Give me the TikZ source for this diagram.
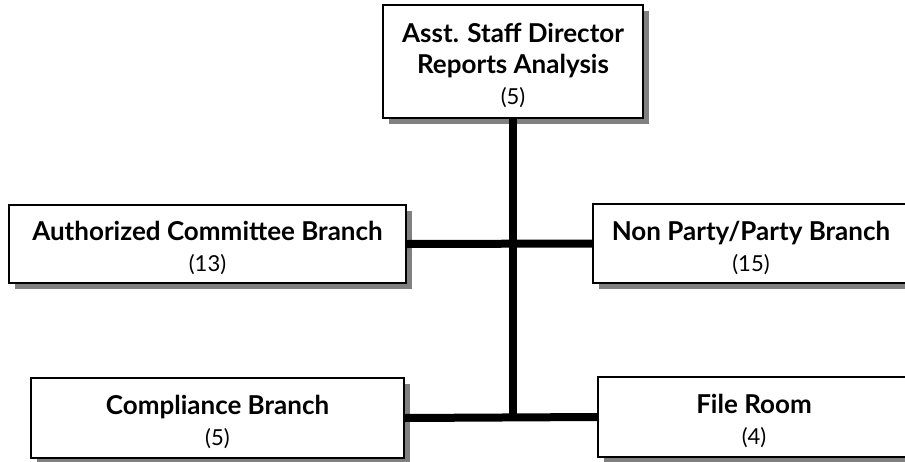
\documentclass[tikz,border=0pt]{standalone}
\usepackage{fontspec}
\setmainfont{Lato}
\usetikzlibrary{positioning}
\usetikzlibrary{shadows}
\newcommand{\topstrut}{\rule{0pt}{28pt}}

\begin{document}
\begin{tikzpicture}[x=1pt,y=-1pt,
  every node/.style={draw,line width=1.6pt,fill=white,align=center,inner sep=0pt,
    font=\fontsize{26}{31}\selectfont\bfseries,
    drop shadow={shadow xshift=6pt,shadow yshift=-6pt,fill=black!50,opacity=1}},
  trunk/.style={line width=8pt}]
  \useasboundingbox (0,0) rectangle (905,461);
  \node [minimum width=260pt,minimum height=113pt] (dir) at (513,61.5)
    {\topstrut Asst. Staff Director\\Reports Analysis\\{\fontsize{22}{28}\selectfont\mdseries (5)}};
  \node [minimum width=397pt,minimum height=78pt] (auth) at (207.5,244)
    {\topstrut Authorized Committee Branch\\{\fontsize{22}{30}\selectfont\mdseries (13)}};
  \node [minimum width=316pt,minimum height=79pt] (party) at (751,243.5)
    {\topstrut Non Party/Party Branch\\{\fontsize{22}{30}\selectfont\mdseries (15)}};
  \node [minimum width=373pt,minimum height=80pt] (comp) at (217.5,418)
    {\topstrut Compliance Branch\\{\fontsize{22}{30}\selectfont\mdseries (5)}};
  \node [minimum width=312pt,minimum height=80pt] (file) at (754,417)
    {\topstrut File Room\\{\fontsize{22}{30}\selectfont\mdseries (4)}};
  \draw[trunk](dir.south)--(dir.south |- comp.east);
  \draw[trunk](auth.east)--(party.west);
  \draw[trunk](comp.east)--(file.west);
\end{tikzpicture}
\end{document}
